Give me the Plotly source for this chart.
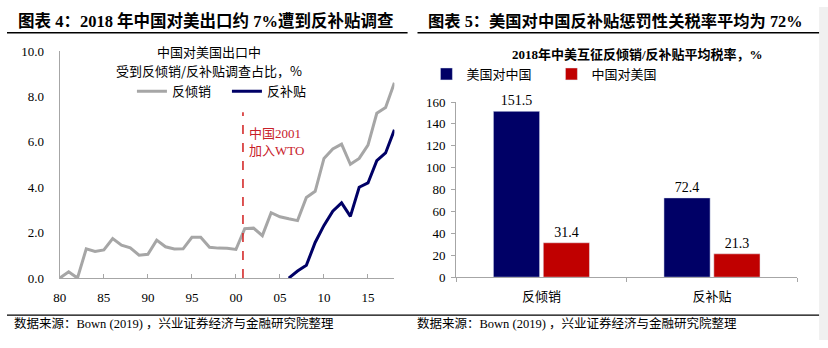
import plotly.graph_objects as go

# ---- left panel: share of China's exports to the US under investigation (%)
years = list(range(1980, 2019))
antidumping_share = [0.0, 0.28, 0.0, 1.29, 1.17, 1.24, 1.74, 1.45, 1.33, 1.01,
                     1.05, 1.67, 1.38, 1.28, 1.29, 1.80, 1.80, 1.36, 1.32, 1.31,
                     1.26, 2.18, 2.20, 1.87, 2.88, 2.70, 2.61, 2.53, 3.55, 3.82,
                     5.27, 5.69, 5.90, 5.01, 5.27, 5.86, 7.26, 7.51, 8.60]
cvd_years = list(range(2006, 2019))
countervailing_share = [0.0, 0.31, 0.56, 1.57, 2.32, 2.95, 3.31, 2.72, 4.00,
                        4.19, 5.17, 5.51, 6.53]
year_ticks = [1980, 1985, 1990, 1995, 2000, 2005, 2010, 2015]
year_labels = ["80", "85", "90", "95", "00", "05", "10", "15"]
wto_year = 2000.8
wto_top = 7.3

# ---- right panel: 2018 average duty rates (%)
duty_types = ["反倾销", "反补贴"]
us_on_china = [151.5, 72.4]
china_on_us = [31.4, 21.3]

W, H = 828, 348
GRAY = "#A6A6A6"
NAVY = "#000066"
RED = "#C00000"
SERIF = "Times New Roman, Liberation Serif, Noto Sans CJK SC, serif"
SANS = "Noto Sans CJK SC, sans-serif"


def px_x(p):
    return p / W


def px_y(p):
    return 1 - p / H


fig = go.Figure()

fig.add_trace(go.Scatter(
    x=years, y=antidumping_share, mode="lines", name="反倾销",
    line=dict(color=GRAY, width=3), xaxis="x", yaxis="y", legend="legend"))
fig.add_trace(go.Scatter(
    x=cvd_years, y=countervailing_share, mode="lines", name="反补贴",
    line=dict(color=NAVY, width=3), xaxis="x", yaxis="y", legend="legend"))
fig.add_trace(go.Scatter(
    x=[wto_year, wto_year], y=[0, wto_top], mode="lines", showlegend=False,
    line=dict(color="#D42A2A", width=1.6, dash="dash"), xaxis="x", yaxis="y",
    hoverinfo="skip"))

fig.add_trace(go.Bar(
    x=duty_types, y=us_on_china, name="美国对中国", marker_color=NAVY,
    text=[f"{v:.1f}" for v in us_on_china], textposition="outside",
    textfont=dict(family=SERIF, size=14, color="#000"),
    xaxis="x2", yaxis="y2", legend="legend2", cliponaxis=False))
fig.add_trace(go.Bar(
    x=duty_types, y=china_on_us, name="中国对美国", marker_color=RED,
    text=[f"{v:.1f}" for v in china_on_us], textposition="outside",
    textfont=dict(family=SERIF, size=14, color="#000"),
    xaxis="x2", yaxis="y2", legend="legend2", cliponaxis=False))

axis_common = dict(showgrid=False, zeroline=False, showline=True,
                   linecolor="#A6A6A6", linewidth=1.3,
                   tickfont=dict(family=SERIF, size=13, color="#000"))

fig.update_layout(
    width=W, height=H, margin=dict(l=0, r=0, t=0, b=0),
    paper_bgcolor="white", plot_bgcolor="white",
    barmode="group", bargap=0.415, bargroupgap=0.074,
    xaxis=dict(domain=[px_x(53.3), px_x(390.7)], range=[1980, 2018],
               tickvals=year_ticks, ticktext=year_labels,
               ticks="inside", ticklen=4, tickcolor="#A6A6A6",
               ticklabelstandoff=7, anchor="y", **axis_common),
    yaxis=dict(domain=[px_y(283.3), px_y(46)], range=[0, 10],
               tickvals=[0, 2, 4, 6, 8, 10], tickformat=".1f",
               ticks="", anchor="x", ticklabelstandoff=12, **axis_common),
    xaxis2=dict(domain=[px_x(453), px_x(797)], range=[-0.5, 1.5],
                ticks="outside", ticklen=4, tickcolor="#A6A6A6",
                tickson="boundaries", ticklabelstandoff=7, anchor="y2",
                **{**axis_common,
                   "tickfont": dict(family=SANS, size=13, color="#000")}),
    yaxis2=dict(domain=[px_y(282.3), px_y(99.3)], range=[0, 160],
                dtick=20, ticks="outside", ticklen=4, tickcolor="#A6A6A6",
                ticklabelstandoff=3, anchor="x2", **axis_common),
    legend=dict(orientation="h", x=px_x(126), y=px_y(88), xanchor="left",
                yanchor="middle", entrywidth=50, entrywidthmode="pixels",
                font=dict(family=SANS, size=13, color="#000"),
                bgcolor="rgba(0,0,0,0)", tracegroupgap=0, itemclick=False),
    legend2=dict(orientation="h", x=px_x(423), y=px_y(70), xanchor="left",
                 yanchor="middle", entrywidth=80, entrywidthmode="pixels",
                 font=dict(family=SANS, size=13, color="#000"),
                 bgcolor="rgba(0,0,0,0)", itemclick=False),
    showlegend=True,
)

# page furniture: headings, rules, in-chart titles, source notes
annotations = [
    dict(text="<b>图表 4：2018 年中国对美出口约 7%遭到反补贴调查</b>",
         x=px_x(9), y=px_y(15), xanchor="left", yanchor="middle",
         font=dict(family=SERIF, size=16.5, color="#000")),
    dict(text="<b>图表 5：美国对中国反补贴惩罚性关税率平均为 72%</b>",
         x=px_x(423), y=px_y(15), xanchor="left", yanchor="middle",
         font=dict(family=SERIF, size=16.3, color="#000")),
    dict(text="中国对美国出口中", x=px_x(204), y=px_y(47),
         xanchor="center", yanchor="middle",
         font=dict(family=SANS, size=13, color="#000")),
    dict(text="受到反倾销/反补贴调查占比，%", x=px_x(204), y=px_y(66),
         xanchor="center", yanchor="middle",
         font=dict(family=SANS, size=13, color="#000")),
    dict(text="<b>2018年中美互征反倾销/反补贴平均税率，%</b>",
         x=px_x(636), y=px_y(50), xanchor="center", yanchor="middle",
         font=dict(family=SERIF, size=13, color="#000")),
    dict(text="中国2001<br>加入WTO", xref="x", yref="y", x=2001.3, y=6.0,
         xanchor="left", yanchor="middle", align="left",
         font=dict(family=SERIF, size=13, color="#C8202A")),
    dict(text="数据来源：Bown (2019) ，兴业证券经济与金融研究院整理",
         x=px_x(5), y=px_y(331), xanchor="left", yanchor="middle",
         font=dict(family=SERIF, size=12.5, color="#000")),
    dict(text="数据来源：Bown (2019) ，兴业证券经济与金融研究院整理",
         x=px_x(411), y=px_y(331), xanchor="left", yanchor="middle",
         font=dict(family=SERIF, size=12.5, color="#000")),
]
for a in annotations:
    a.setdefault("xref", "paper")
    a.setdefault("yref", "paper")
    a["showarrow"] = False
fig.update_layout(annotations=annotations)

shapes = [
    dict(type="line", x0=0, x1=px_x(404), y0=px_y(27), y1=px_y(27),
         line=dict(color="#000", width=1.5)),
    dict(type="line", x0=px_x(414), x1=px_x(819), y0=px_y(27), y1=px_y(27),
         line=dict(color="#000", width=1.5)),
    dict(type="line", x0=0, x1=px_x(819), y0=px_y(322), y1=px_y(322),
         line=dict(color="#000", width=1.2)),
    dict(type="rect", x0=px_x(819), x1=1, y0=0, y1=1,
         fillcolor="#F0F0F0", line=dict(width=0), layer="below"),
]
for s in shapes:
    s["xref"] = "paper"
    s["yref"] = "paper"
fig.update_layout(shapes=shapes)

fig.write_html("out.html")
